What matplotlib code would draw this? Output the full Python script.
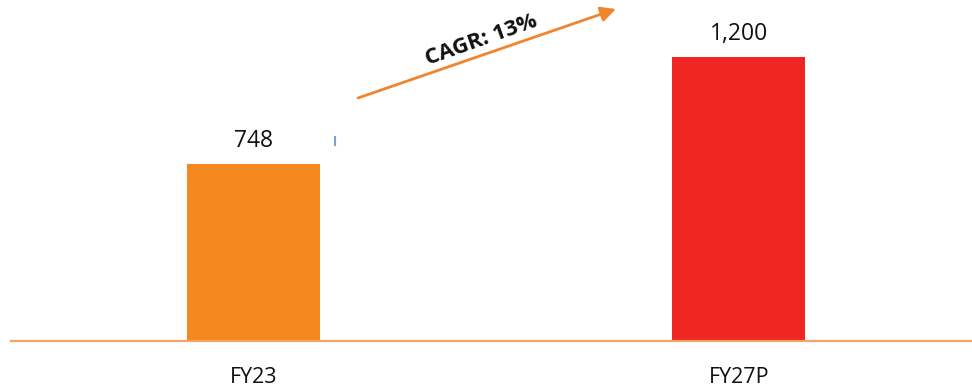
import matplotlib
matplotlib.use("Agg")
import matplotlib.pyplot as plt

categories = ["FY23", "FY27P"]
values = [748, 1200]
value_labels = ["748", "1,200"]
bar_colors = ["#F5881F", "#EE2624"]
cagr_text = "CAGR: 13%"

W, H = 972, 389
fig = plt.figure(figsize=(W / 100, H / 100), dpi=100)
ax = fig.add_axes([11 / W, (H - 341) / H, 1 - 11 / W, 341 / H])

x = list(range(len(categories)))
ax.bar(x, values, width=0.274, color=bar_colors, zorder=2)
ax.set_xlim(-0.5, 1.481)
ax.set_ylim(0, 1441)

for xi, v, lab in zip(x, values, value_labels):
    ax.annotate(lab, (xi, v), xytext=(0, 12.5), textcoords="offset points",
                ha="center", va="baseline", fontsize=16.5, family="Open Sans",
                color="#111111")

for s in ["top", "right", "left"]:
    ax.spines[s].set_visible(False)
ax.spines["bottom"].set_color("#F4A468")
ax.spines["bottom"].set_linewidth(1.6)
ax.set_yticks([])
ax.set_xticks(x)
ax.set_xticklabels(categories, fontsize=15.5, family="Open Sans", color="#111111")
ax.tick_params(axis="x", length=0, pad=18.5)

# small blue marker mark
fig.add_artist(plt.Line2D([334.5 / W, 334.5 / W], [1 - 137 / H, 1 - 145 / H],
                          color="#7F9FD0", lw=1.5))

# growth arrow
ax.annotate("", xy=(616 / W, 1 - 9 / H), xytext=(358 / W, 1 - 98 / H),
            xycoords="figure fraction", textcoords="figure fraction",
            arrowprops=dict(arrowstyle="-|>,head_length=0.9,head_width=0.45",
                            color="#F0852E", lw=2, shrinkA=0, shrinkB=0))
fig.text(481 / W, 1 - 40 / H, cagr_text, rotation=19.5, ha="center", va="center",
         fontsize=16, fontweight="bold", family="Open Sans", color="#111111",
         rotation_mode="anchor")

fig.savefig("out.png", dpi=100, facecolor="white")
